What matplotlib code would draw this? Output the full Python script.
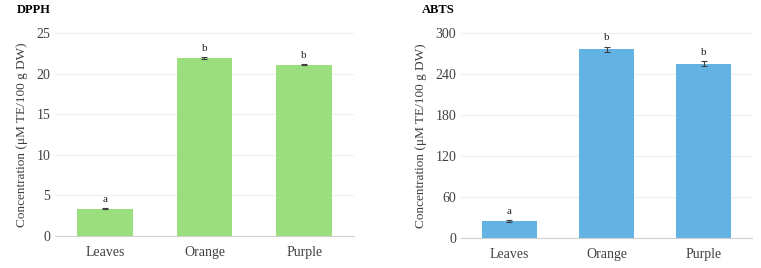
import matplotlib.pyplot as plt
import numpy as np

categories = ['Leaves', 'Orange', 'Purple']
dpph = [3.35, 21.9, 21.1]
dpph_err = [0.08, 0.1, 0.1]
abts = [25, 276, 255]
abts_err = [1.5, 4, 4]
letters = ['a', 'b', 'b']

plt.rcParams['font.family'] = ['Liberation Serif', 'DejaVu Serif']

fig = plt.figure(figsize=(7.61, 2.68), dpi=100)
ax1 = fig.add_axes([55/761, 32/268, 299/761, 203/268])
ax2 = fig.add_axes([461/761, 30/268, 291/761, 205/268])


def draw(ax, vals, errs, color, ymax, step):
    x = np.arange(len(categories))
    ax.bar(x, vals, width=0.56, color=color, zorder=2)
    ax.errorbar(x, vals, yerr=errs, fmt='none', ecolor='#404040',
                elinewidth=0.8, capsize=2.5, capthick=0.8, zorder=3)
    for xi, v, e, l in zip(x, vals, errs, letters):
        ax.annotate(l, (xi, v + e), xytext=(0, 3), textcoords='offset points',
                    ha='center', va='bottom', fontsize=8, color='#262626')
    ax.set_xlim(-0.5, 2.5)
    ax.set_ylim(0, ymax)
    ax.set_yticks(np.arange(0, ymax + 1, step))
    ax.set_xticks(x)
    ax.set_xticklabels(categories)
    ax.yaxis.grid(True, color='#eeeeee', linewidth=0.8, zorder=0)
    for s in ['top', 'right', 'left']:
        ax.spines[s].set_visible(False)
    ax.spines['bottom'].set_color('#d0d0d0')
    ax.tick_params(axis='both', length=0, labelsize=10, colors='#404040')
    ax.tick_params(axis='x', pad=7)
    ax.set_ylabel('Concentration (\u03bcM TE/100 g DW)', fontsize=9.5,
                  color='#404040', labelpad=6)


draw(ax1, dpph, dpph_err, '#9ade7e', 25, 5)
draw(ax2, abts, abts_err, '#62b3e4', 300, 60)

fig.text(17/761, 1 - 10/268, 'DPPH', fontsize=9, fontweight='bold',
         va='center', ha='left')
fig.text(422/761, 1 - 10/268, 'ABTS', fontsize=9, fontweight='bold',
         va='center', ha='left')

fig.savefig('out.png', dpi=100)
